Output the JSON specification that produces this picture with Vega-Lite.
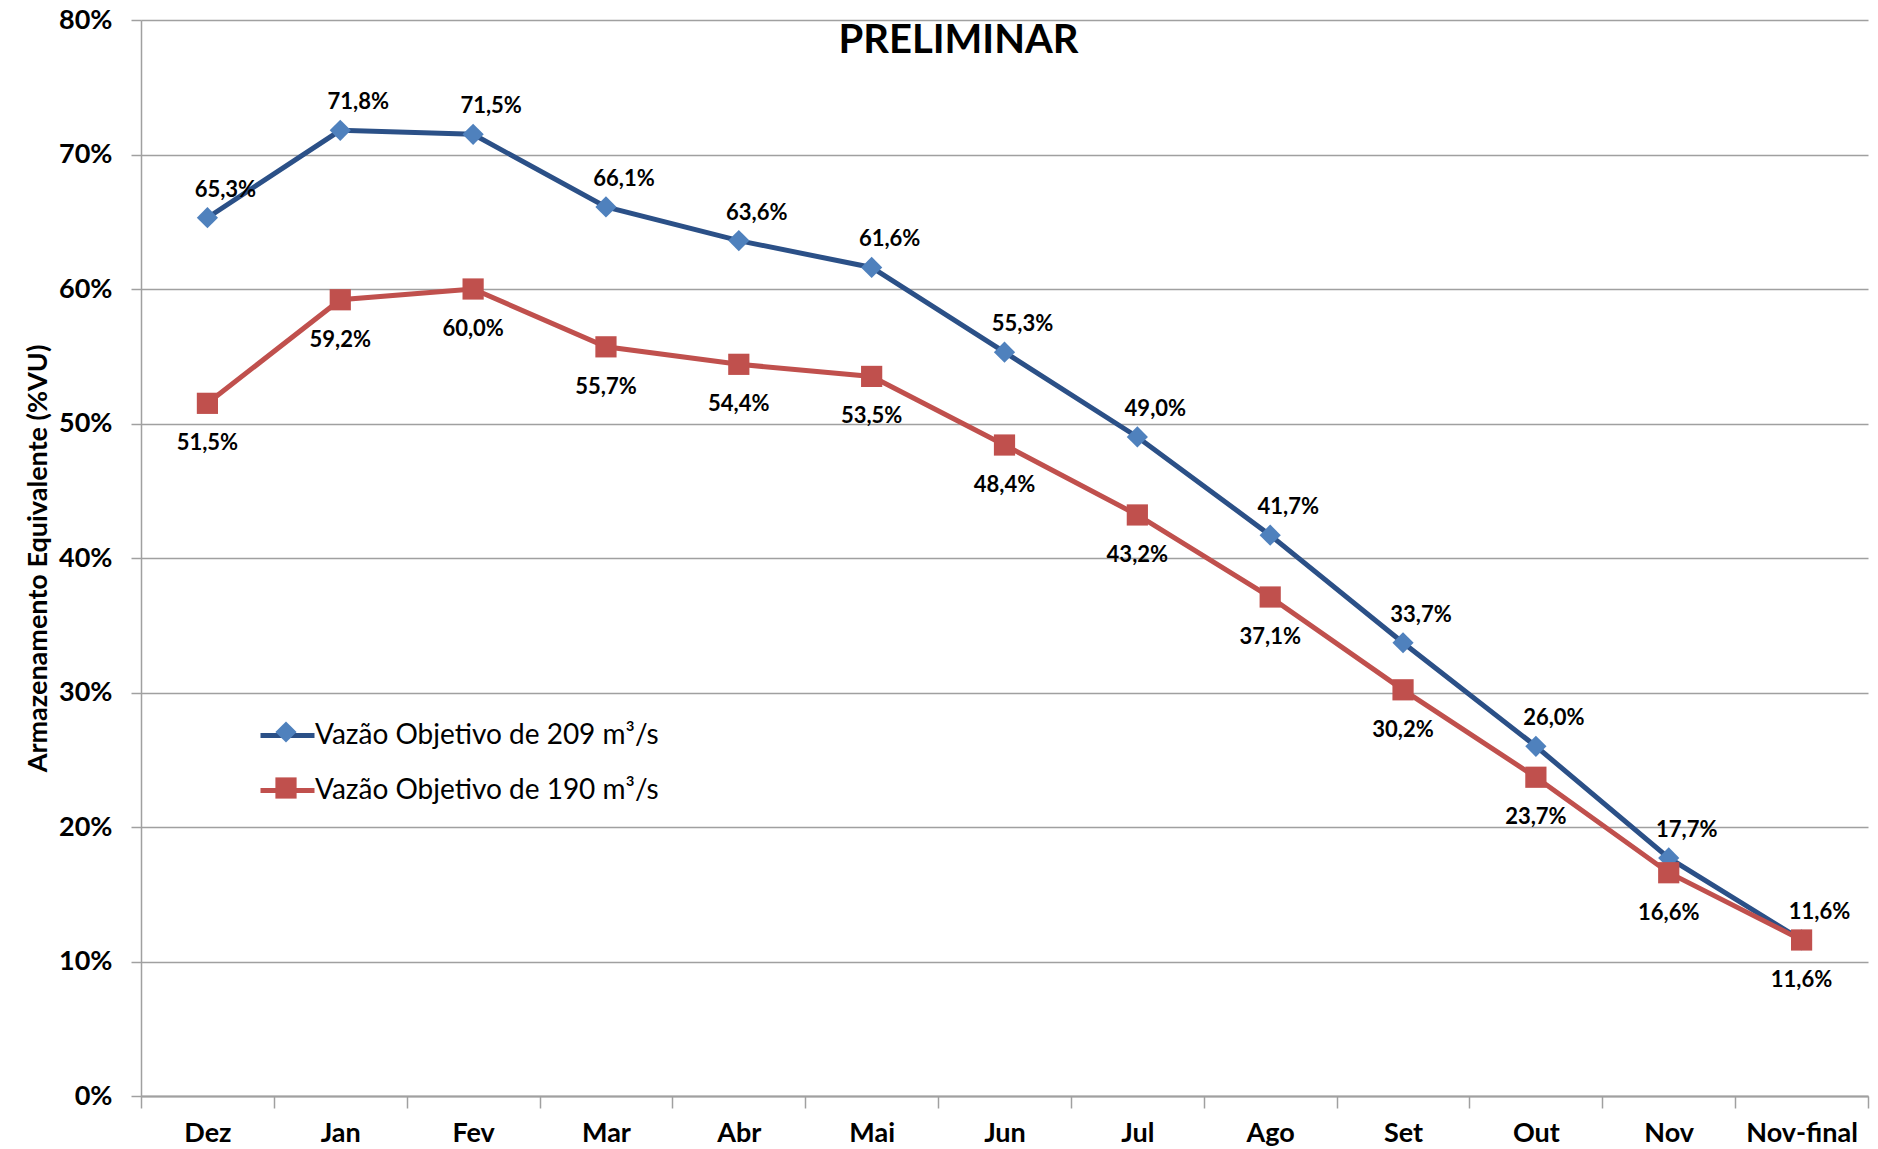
{
  "$schema": "https://vega.github.io/schema/vega-lite/v6.json",
  "width": 1727,
  "height": 1076,
  "autosize": {"type": "none"},
  "padding": {"left": 141, "top": 20, "right": 10, "bottom": 53},
  "background": "white",
  "title": {"text": "PRELIMINAR", "font": "Lato", "fontSize": 40, "fontWeight": "bold", "color": "black", "anchor": "middle", "baseline": "alphabetic", "offset": -87, "dx": -46},
  "config": {
    "locale": {"number": {"decimal": ",", "thousands": ".", "grouping": [3], "currency": ["R$", ""]}},
    "view": {"stroke": null},
    "font": "Lato"
  },
  "data": {"values": [
    {"mes": "Dez", "vazao": 209, "serie": "Vazão Objetivo de 209 m³/s", "valor": 0.653},
    {"mes": "Jan", "vazao": 209, "serie": "Vazão Objetivo de 209 m³/s", "valor": 0.718},
    {"mes": "Fev", "vazao": 209, "serie": "Vazão Objetivo de 209 m³/s", "valor": 0.715},
    {"mes": "Mar", "vazao": 209, "serie": "Vazão Objetivo de 209 m³/s", "valor": 0.661},
    {"mes": "Abr", "vazao": 209, "serie": "Vazão Objetivo de 209 m³/s", "valor": 0.636},
    {"mes": "Mai", "vazao": 209, "serie": "Vazão Objetivo de 209 m³/s", "valor": 0.616},
    {"mes": "Jun", "vazao": 209, "serie": "Vazão Objetivo de 209 m³/s", "valor": 0.553},
    {"mes": "Jul", "vazao": 209, "serie": "Vazão Objetivo de 209 m³/s", "valor": 0.490},
    {"mes": "Ago", "vazao": 209, "serie": "Vazão Objetivo de 209 m³/s", "valor": 0.417},
    {"mes": "Set", "vazao": 209, "serie": "Vazão Objetivo de 209 m³/s", "valor": 0.337},
    {"mes": "Out", "vazao": 209, "serie": "Vazão Objetivo de 209 m³/s", "valor": 0.260},
    {"mes": "Nov", "vazao": 209, "serie": "Vazão Objetivo de 209 m³/s", "valor": 0.177},
    {"mes": "Nov-final", "vazao": 209, "serie": "Vazão Objetivo de 209 m³/s", "valor": 0.116},
    {"mes": "Dez", "vazao": 190, "serie": "Vazão Objetivo de 190 m³/s", "valor": 0.515},
    {"mes": "Jan", "vazao": 190, "serie": "Vazão Objetivo de 190 m³/s", "valor": 0.592},
    {"mes": "Fev", "vazao": 190, "serie": "Vazão Objetivo de 190 m³/s", "valor": 0.600},
    {"mes": "Mar", "vazao": 190, "serie": "Vazão Objetivo de 190 m³/s", "valor": 0.557},
    {"mes": "Abr", "vazao": 190, "serie": "Vazão Objetivo de 190 m³/s", "valor": 0.544},
    {"mes": "Mai", "vazao": 190, "serie": "Vazão Objetivo de 190 m³/s", "valor": 0.535},
    {"mes": "Jun", "vazao": 190, "serie": "Vazão Objetivo de 190 m³/s", "valor": 0.484},
    {"mes": "Jul", "vazao": 190, "serie": "Vazão Objetivo de 190 m³/s", "valor": 0.432},
    {"mes": "Ago", "vazao": 190, "serie": "Vazão Objetivo de 190 m³/s", "valor": 0.371},
    {"mes": "Set", "vazao": 190, "serie": "Vazão Objetivo de 190 m³/s", "valor": 0.302},
    {"mes": "Out", "vazao": 190, "serie": "Vazão Objetivo de 190 m³/s", "valor": 0.237},
    {"mes": "Nov", "vazao": 190, "serie": "Vazão Objetivo de 190 m³/s", "valor": 0.166},
    {"mes": "Nov-final", "vazao": 190, "serie": "Vazão Objetivo de 190 m³/s", "valor": 0.116}
  ]},
  "encoding": {
    "x": {
      "field": "mes", "type": "nominal",
      "sort": ["Dez", "Jan", "Fev", "Mar", "Abr", "Mai", "Jun", "Jul", "Ago", "Set", "Out", "Nov", "Nov-final"],
      "bandPosition": 0.5,
      "scale": {"type": "band", "paddingInner": 0, "paddingOuter": 0},
      "axis": {"title": null, "labelFont": "Lato", "labelFontSize": 27, "labelFontWeight": "bold", "labelColor": "black", "labelPadding": 12, "labelAngle": 0, "tickBand": "extent", "tickSize": 12, "tickColor": "#a0a0a0", "tickWidth": 1.5, "domainColor": "#a0a0a0", "domainWidth": 2, "grid": false}
    },
    "y": {
      "field": "valor", "type": "quantitative",
      "scale": {"domain": [0, 0.8]},
      "axis": {"title": "Armazenamento Equivalente (%VU)", "titleFont": "Lato", "titleFontSize": 27, "titleFontWeight": "bold", "titleColor": "black", "titlePadding": 6, "format": ".0%", "values": [0, 0.1, 0.2, 0.3, 0.4, 0.5, 0.6, 0.7, 0.8], "labelFont": "Lato", "labelFontSize": 27, "labelFontWeight": "bold", "labelColor": "black", "labelPadding": 19, "tickSize": 10, "tickColor": "#a0a0a0", "tickWidth": 1.5, "grid": true, "gridColor": "#a0a0a0", "gridWidth": 1.5, "domainColor": "#a0a0a0", "domainWidth": 1.5}
    }
  },
  "layer": [
    {
      "mark": {"type": "line", "strokeWidth": 5},
      "encoding": {
        "stroke": {"field": "serie", "type": "nominal",
          "scale": {"domain": ["Vazão Objetivo de 209 m³/s", "Vazão Objetivo de 190 m³/s"], "range": ["#2B5087", "#C0504D"]},
          "legend": {"orient": "none", "legendX": 117, "legendY": 686, "title": null, "symbolType": "stroke", "symbolSize": 2916, "symbolStrokeWidth": 5, "labelFont": "Lato", "labelFontSize": 28, "labelColor": "black", "labelOffset": -2, "labelLimit": 700, "rowPadding": 11}
        }
      }
    },
    {
      "mark": {"type": "point", "filled": true, "size": 450, "opacity": 1},
      "encoding": {
        "fill": {"field": "vazao", "type": "nominal",
          "scale": {"domain": [209, 190], "range": ["#4F81BD", "#C0504D"]},
          "legend": {"orient": "none", "legendX": 134, "legendY": 701, "title": null, "symbolSize": 450, "symbolStrokeWidth": 0, "symbolOpacity": 1, "labelExpr": "''", "labelFontSize": 10, "labelOffset": 0, "rowPadding": 34}
        },
        "shape": {"field": "vazao", "type": "nominal",
          "scale": {"domain": [209, 190], "range": ["diamond", "square"]},
          "legend": {"orient": "none", "legendX": 134, "legendY": 701, "title": null, "symbolSize": 450, "symbolStrokeWidth": 0, "symbolOpacity": 1, "labelExpr": "''", "labelFontSize": 10, "labelOffset": 0, "rowPadding": 34}
        }
      }
    },
    {
      "transform": [{"filter": "datum.vazao == 209"}],
      "mark": {"type": "text", "dx": 18, "dy": -28, "font": "Lato", "fontSize": 22, "fontWeight": "bold", "color": "black", "align": "center", "baseline": "middle"},
      "encoding": {"text": {"field": "valor", "type": "quantitative", "format": ".1%"}}
    },
    {
      "transform": [{"filter": "datum.vazao == 190"}],
      "mark": {"type": "text", "dy": 40, "font": "Lato", "fontSize": 22, "fontWeight": "bold", "color": "black", "align": "center", "baseline": "middle"},
      "encoding": {"text": {"field": "valor", "type": "quantitative", "format": ".1%"}}
    }
  ]
}
